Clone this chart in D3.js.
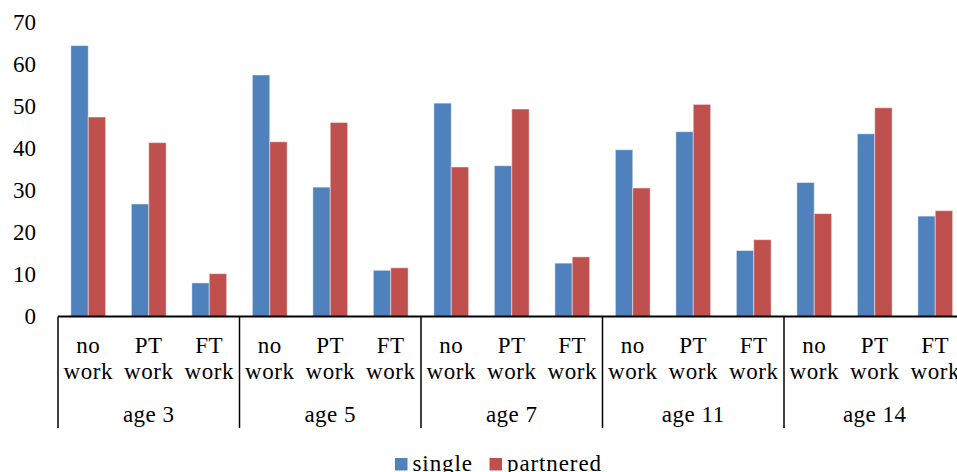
<!DOCTYPE html>
<html>
<head>
<meta charset="utf-8">
<script src="https://cdn.jsdelivr.net/npm/d3@7"></script>
<style>
  body { margin: 0; background: #fff; }
  svg { display: block; font-family: "Liberation Serif", "DejaVu Serif", serif; }
</style>
</head>
<body>
<svg id="BarChart"></svg>
<script>
var groups = ["age 3", "age 5", "age 7", "age 11", "age 14"]
var workTypes = [["no", "work"], ["PT", "work"], ["FT", "work"]]
var seriesNames = ["single", "partnered"]
var single    = [64.5, 26.8, 8.0, 57.5, 30.8, 11.0, 50.8, 35.9, 12.7, 39.7, 44.0, 15.7, 31.9, 43.5, 23.9]
var partnered = [47.5, 41.4, 10.2, 41.6, 46.2, 11.6, 35.6, 49.4, 14.2, 30.6, 50.5, 18.3, 24.5, 49.7, 25.2]
var yTicks = [0, 10, 20, 30, 40, 50, 60, 70]
var colors = ["#4F81BD", "#C0504D"]

var dimensions = {
    width: 957,
    height: 472,
    margin: { top: 22, left: 58, baseline: 316.5 }
}

// one row per category (group x work type)
var data = []
groups.forEach((g, gi) => {
    workTypes.forEach((w, wi) => {
        var i = gi * workTypes.length + wi
        data.push({ key: g + "|" + wi, group: g, work: w, values: [single[i], partnered[i]] })
    })
})

var svg = d3.select("#BarChart")
            .attr("width", dimensions.width)
            .attr("height", dimensions.height)

var step = 60.5
var xScale = d3.scaleBand()
               .domain(data.map(d => d.key))
               .range([dimensions.margin.left, dimensions.margin.left + step * data.length])

var innerScale = d3.scaleBand()
                   .domain(seriesNames)
                   .range([0, xScale.bandwidth()])
                   .paddingOuter(0.74)

var yScale = d3.scaleLinear()
               .domain([0, 70])
               .range([dimensions.margin.baseline, dimensions.margin.baseline - 294])

var colorScale = d3.scaleOrdinal().domain(seriesNames).range(colors)

// bars
var cats = svg.append("g")
              .selectAll("g")
              .data(data)
              .enter()
              .append("g")
              .attr("transform", d => `translate(${xScale(d.key)},0)`)

cats.selectAll("rect")
    .data(d => d.values.map((v, i) => ({ name: seriesNames[i], value: v })))
    .enter()
    .append("rect")
    .attr("x", d => innerScale(d.name))
    .attr("y", d => yScale(d.value))
    .attr("width", innerScale.bandwidth())
    .attr("height", d => yScale(0) - yScale(d.value))
    .attr("fill", d => colorScale(d.name))
    .attr("stroke", "rgba(255,255,255,0.45)")
    .attr("stroke-width", 1)

// y axis (labels only)
var yAxis = svg.append("g")
               .attr("transform", `translate(${dimensions.margin.left - 22},0)`)
               .call(d3.axisLeft(yScale).tickValues(yTicks).tickSize(0).tickPadding(0))
yAxis.select(".domain").remove()
yAxis.selectAll("text")
     .attr("font-family", "Liberation Serif, serif")
     .style("font-size", "23px")
     .attr("fill", "#000")

// x axis line
svg.append("line")
   .attr("x1", dimensions.margin.left)
   .attr("x2", dimensions.width)
   .attr("y1", yScale(0))
   .attr("y2", yScale(0))
   .attr("stroke", "#000")
   .attr("stroke-width", 2)

// group dividers
var bottom = 428
d3.range(groups.length + 1).forEach(i => {
    var x = dimensions.margin.left + i * step * workTypes.length
    svg.append("line")
       .attr("x1", x).attr("x2", x)
       .attr("y1", yScale(0)).attr("y2", bottom)
       .attr("stroke", "#000")
       .attr("stroke-width", 1.5)
})

// category labels
var catLabels = svg.append("g")
                   .selectAll("text")
                   .data(data)
                   .enter()
                   .append("text")
                   .attr("text-anchor", "middle")
                   .attr("x", d => xScale(d.key) + xScale.bandwidth() / 2)
                   .style("font-size", "23px")
                   .style("letter-spacing", "0.5px")
                   .attr("fill", "#000")
catLabels.append("tspan").attr("x", d => xScale(d.key) + xScale.bandwidth() / 2).attr("y", 353).text(d => d.work[0])
catLabels.append("tspan").attr("x", d => xScale(d.key) + xScale.bandwidth() / 2).attr("y", 379).text(d => d.work[1])

// group labels
groups.forEach((g, gi) => {
    var first = xScale(g + "|0")
    var last = xScale(g + "|" + (workTypes.length - 1)) + xScale.bandwidth()
    svg.append("text")
       .attr("x", (first + last) / 2)
       .attr("y", 421.5)
       .attr("text-anchor", "middle")
       .style("font-size", "23px")
       .style("letter-spacing", "0.5px")
       .attr("fill", "#000")
       .text(g)
})

// legend
var legendPos = [395, 489.5]
var legend = svg.append("g")
                .selectAll("g")
                .data(seriesNames)
                .enter()
                .append("g")
                .attr("transform", (d, i) => `translate(${legendPos[i]},458)`)
legend.append("rect")
      .attr("width", 12.5)
      .attr("height", 12.5)
      .attr("fill", d => colorScale(d))
legend.append("text")
      .attr("x", 17.5)
      .attr("y", 13)
      .style("font-size", "23px")
      .style("letter-spacing", "0.9px")
      .attr("fill", "#000")
      .text(d => d)
</script>
</body>
</html>
